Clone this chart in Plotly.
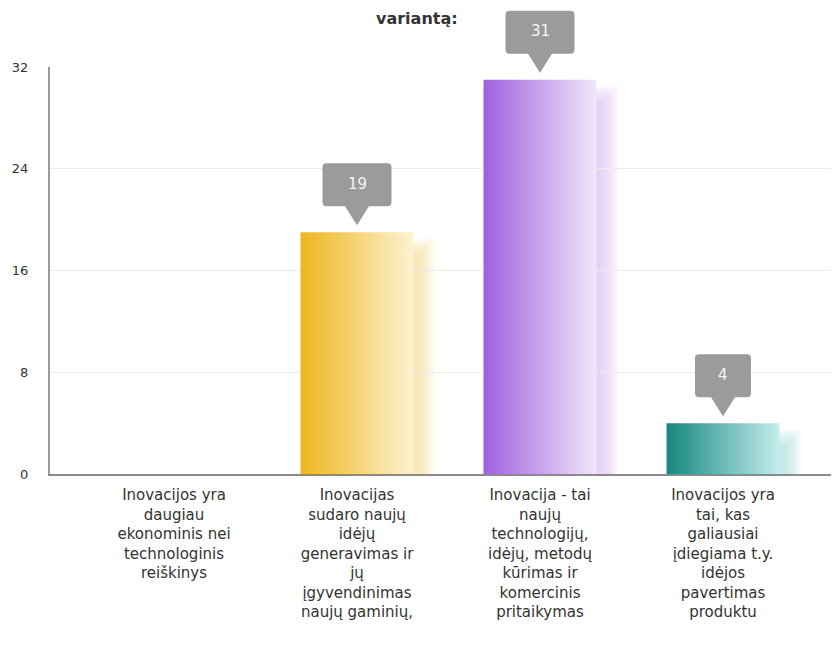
import plotly.graph_objects as go

# ---------------- data ----------------
categories = [
    "Inovacijos yra<br>daugiau<br>ekonominis nei<br>technologinis<br>reiškinys",
    "Inovacijas<br>sudaro naujų<br>idėjų<br>generavimas ir<br>jų<br>įgyvendinimas<br>naujų gaminių,",
    "Inovacija - tai<br>naujų<br>technologijų,<br>idėjų, metodų<br>kūrimas ir<br>komercinis<br>pritaikymas",
    "Inovacijos yra<br>tai, kas<br>galiausiai<br>įdiegiama t.y.<br>idėjos<br>pavertimas<br>produktu",
]
values = [0, 19, 31, 4]
dark_colors = ["#2f7fc4", "#EEB51C", "#9F60DC", "#16877F"]
light_colors = ["#cfe3f5", "#FDF3D3", "#F1E6FA", "#C2EEEC"]
shadow_colors = ["#cfe3f5", "#F6D66E", "#CFAEEE", "#8FD6D2"]
y_ticks = [0, 8, 16, 24, 32]
y_max = 32
title_text = "variantą:"

# ---------------- layout constants ----------------
BAR_W = 0.617
PX_X = 183.0             # pixels per category unit
PLOT_H = 407.0
PX_Y = PLOT_H / y_max    # pixels per value unit
W, H = 831, 637          # page body has an 8px margin
M_L, M_T = 42, 59
M_B = H - M_T - int(PLOT_H)

fig = go.Figure()
shapes = []
annotations = []

xs = list(range(len(categories)))
for i, v in zip(xs, values):
    if v <= 0:
        continue
    # soft shadow (several layered translucent rects)
    for k in range(9):
        grow = k * 2.0
        shapes.append(dict(
            type="rect", xref="x", yref="y", layer="below",
            x0=i - BAR_W / 2 + (14 - grow) / PX_X,
            x1=i + BAR_W / 2 + (6 + grow) / PX_X,
            y0=-(8 + grow) / PX_Y,
            y1=v - (22 - grow) / PX_Y,
            line=dict(width=0), fillcolor=shadow_colors[i], opacity=0.07,
        ))
    # gradient bar
    fig.add_trace(go.Scatter(
        x=[i - BAR_W / 2, i + BAR_W / 2, i + BAR_W / 2, i - BAR_W / 2, i - BAR_W / 2],
        y=[0, 0, v, v, 0],
        mode="lines", line=dict(width=0), fill="toself",
        fillgradient=dict(type="horizontal",
                          colorscale=[[0, dark_colors[i]], [1, light_colors[i]]]),
        hoverinfo="skip", showlegend=False,
    ))
    # callout bubble
    txt = str(v)
    bw = 43 + 13 * len(txt)
    hw = bw / 2.0
    r = 4
    top, bot, tip = 69, 26, 7
    path = (
        f"M {-hw + r},{top} L {hw - r},{top} Q {hw},{top} {hw},{top - r} "
        f"L {hw},{bot + r} Q {hw},{bot} {hw - r},{bot} "
        f"L 12,{bot} L 0,{tip} L -12,{bot} "
        f"L {-hw + r},{bot} Q {-hw},{bot} {-hw},{bot + r} "
        f"L {-hw},{top - r} Q {-hw},{top} {-hw + r},{top} Z"
    )
    shapes.append(dict(
        type="path", xref="x", yref="paper", layer="above",
        xsizemode="pixel", ysizemode="pixel", xanchor=i, yanchor=v / y_max,
        path=path, fillcolor="#9b9b9b", line=dict(width=0),
    ))
    annotations.append(dict(
        x=i, y=v, xref="x", yref="y", text=txt, showarrow=False,
        yshift=(top + bot) / 2.0 + 1, xanchor="center", yanchor="middle",
        font=dict(family="DejaVu Sans", size=15, color="#f4f4f4"),
    ))

annotations.append(dict(
    x=(409 - M_L) / 789.0, y=1 + (M_T - 10) / PLOT_H, xref="paper", yref="paper",
    xanchor="center", yanchor="middle",
    text="<b>" + title_text + "</b>", showarrow=False,
    font=dict(family="DejaVu Sans", size=16, color="#333333"),
))

fig.update_layout(
    width=W, height=H,
    margin=dict(l=M_L, r=0, t=M_T, b=M_B, autoexpand=False),
    paper_bgcolor="white", plot_bgcolor="white",
    shapes=shapes, annotations=annotations,
    showlegend=False,
    xaxis=dict(
        range=[-124 / PX_X, 665 / PX_X],
        tickmode="array", tickvals=xs, ticktext=categories,
        tickfont=dict(family="DejaVu Sans", size=15, color="#333333"),
        showgrid=False, zeroline=False,
        showline=True, linecolor="#8a8a8a", linewidth=2,
        ticks="", ticklabelstandoff=6, fixedrange=True,
    ),
    yaxis=dict(
        range=[0, y_max], tickmode="array", tickvals=y_ticks,
        tickfont=dict(family="DejaVu Sans", size=13, color="#333333"),
        showgrid=True, gridcolor="#ececec", gridwidth=1,
        zeroline=False, showline=True, linecolor="#9a9a9a", linewidth=2,
        ticks="", ticklabelstandoff=17, fixedrange=True,
    ),
)

fig.write_html("out.html")
